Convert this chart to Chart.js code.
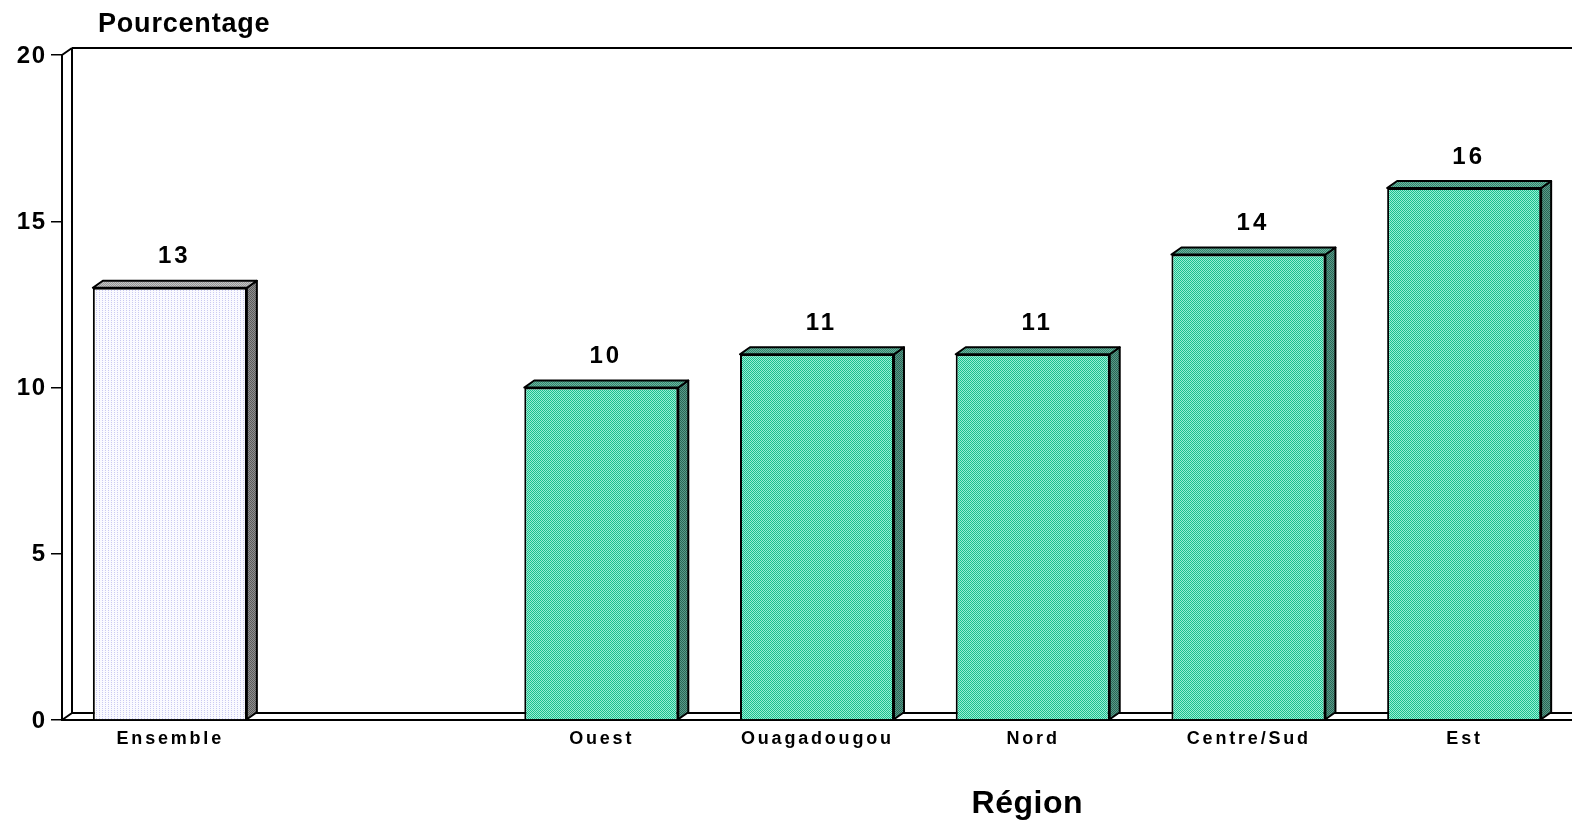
<!DOCTYPE html>
<html>
<head>
<meta charset="utf-8">
<script src="https://cdn.jsdelivr.net/npm/chart.js@4.4.1/dist/chart.umd.min.js"></script>
<style>
  html, body { margin: 0; padding: 0; background: #fff; }
  #wrap { width: 1572px; height: 823px; }
</style>
</head>
<body>
<div id="wrap"><canvas id="regionChart"></canvas></div>
<script>
// data
const regions = ['Ensemble', '', 'Ouest', 'Ouagadougou', 'Nord', 'Centre/Sud', 'Est'];
const pourcentages = [13, null, 10, 11, 11, 14, 16];
const yTicks = [0, 5, 10, 15, 20];

const FONT = "'Liberation Sans', Arial, sans-serif";
const DX = 10, DY = 7; // depth of the fake 3D

// little dotted fills like the original
function pattern(colA, colB, w, h, dots) {
  const c = document.createElement('canvas');
  c.width = w; c.height = h;
  const g = c.getContext('2d');
  g.fillStyle = colA;
  g.fillRect(0, 0, w, h);
  g.fillStyle = colB;
  dots.forEach(d => g.fillRect(d[0], d[1], 1, 1));
  return document.createElement('canvas').getContext('2d').createPattern(c, 'repeat');
}
const checker = [[0, 0], [1, 1]];
const tealFront = pattern('#98efd4', '#1cbf8e', 2, 2, checker);
const tealSide = pattern('#5a9a88', '#2a6656', 2, 2, checker);
const tealTop = pattern('#6cb49e', '#32866e', 2, 2, checker);
const lilacFront = pattern('#fafaff', '#cacaf2', 3, 2, [[0, 0]]);
const greySide = pattern('#8e8e8e', '#5a5a5a', 2, 2, checker);
const greyTop = pattern('#c4c4c4', '#989898', 2, 2, checker);

const fronts = regions.map((r, i) => i === 0 ? lilacFront : tealFront);

// text with spacing, centred or right aligned
function spaced(ctx, txt, x, y, spacing, align) {
  ctx.letterSpacing = spacing + 'px';
  ctx.textAlign = align;
  const shift = align === 'center' ? spacing / 2 : (align === 'right' ? spacing : 0);
  ctx.fillText(txt, x + shift, y);
  ctx.letterSpacing = '0px';
}

const threeD = {
  id: 'threeD',
  beforeDatasetsDraw(chart) {
    const { ctx, chartArea: a } = chart;
    ctx.save();
    ctx.strokeStyle = '#000';
    ctx.lineWidth = 2;
    ctx.beginPath();
    ctx.moveTo(a.left + DX, a.top - DY);
    ctx.lineTo(a.left + DX, a.bottom - DY);
    ctx.moveTo(a.left + DX, a.top - DY);
    ctx.lineTo(a.right, a.top - DY);
    ctx.moveTo(a.left + DX, a.bottom - DY);
    ctx.lineTo(a.right, a.bottom - DY);
    ctx.moveTo(a.left, a.top);
    ctx.lineTo(a.left + DX, a.top - DY);
    ctx.moveTo(a.left, a.bottom);
    ctx.lineTo(a.left + DX, a.bottom - DY);
    ctx.stroke();
    ctx.restore();
  },
  afterDatasetsDraw(chart) {
    const { ctx } = chart;
    const meta = chart.getDatasetMeta(0);
    ctx.save();
    ctx.strokeStyle = '#000';
    ctx.lineWidth = 2;
    ctx.lineJoin = 'round';
    meta.data.forEach((bar, i) => {
      if (pourcentages[i] == null) return;
      const p = bar.getProps(['x', 'y', 'base', 'width'], true);
      const l = p.x - p.width / 2, r = p.x + p.width / 2;
      // side
      ctx.beginPath();
      ctx.moveTo(r, p.y);
      ctx.lineTo(r + DX, p.y - DY);
      ctx.lineTo(r + DX, p.base - DY);
      ctx.lineTo(r, p.base);
      ctx.closePath();
      ctx.fillStyle = i === 0 ? greySide : tealSide;
      ctx.fill();
      ctx.stroke();
      // top
      ctx.beginPath();
      ctx.moveTo(l, p.y);
      ctx.lineTo(l + DX, p.y - DY);
      ctx.lineTo(r + DX, p.y - DY);
      ctx.lineTo(r, p.y);
      ctx.closePath();
      ctx.fillStyle = i === 0 ? greyTop : tealTop;
      ctx.fill();
      ctx.stroke();
      // value
      ctx.fillStyle = '#000';
      ctx.font = 'bold 24px ' + FONT;
      ctx.textBaseline = 'middle';
      spaced(ctx, String(pourcentages[i]), p.x + 3, p.y - 31, 3, 'center');
    });
    ctx.restore();
  },
  afterDraw(chart) {
    const { ctx, scales } = chart;
    ctx.save();
    ctx.fillStyle = '#000';
    ctx.textBaseline = 'middle';
    // y tick labels
    ctx.font = 'bold 24px ' + FONT;
    yTicks.forEach(v => spaced(ctx, String(v), 45, scales.y.getPixelForValue(v) + 1, 1.5, 'right'));
    // category labels, spaced out
    ctx.font = 'bold 18px ' + FONT;
    regions.forEach((r, i) => {
      if (!r) return;
      spaced(ctx, r, scales.x.getPixelForValue(i) - 1, 739, 2.8, 'center');
    });
    // axis titles
    ctx.font = 'bold 27px ' + FONT;
    spaced(ctx, 'Pourcentage', 98, 25, 0.8, 'left');
    ctx.font = 'bold 32px ' + FONT;
    spaced(ctx, 'Région', 1027, 804, 0.5, 'center');
    ctx.restore();
  }
};

new Chart(document.getElementById('regionChart'), {
  type: 'bar',
  data: {
    labels: regions,
    datasets: [{
      data: pourcentages,
      backgroundColor: fronts,
      borderColor: '#000',
      borderWidth: 2,
      borderSkipped: 'start',
      categoryPercentage: 1,
      barPercentage: 0.714
    }]
  },
  options: {
    responsive: true,
    maintainAspectRatio: false,
    animation: false,
    devicePixelRatio: 1,
    layout: { padding: { top: 55, right: 0, left: 0, bottom: 0 } },
    plugins: { legend: { display: false }, tooltip: { enabled: false } },
    scales: {
      x: {
        ticks: { display: false },
        grid: { display: false },
        border: { display: true, color: '#000', width: 2 },
        afterFit(scale) { scale.height = 103; }
      },
      y: {
        min: 0,
        max: 20,
        afterBuildTicks(scale) { scale.ticks = yTicks.map(v => ({ value: v })); },
        ticks: { display: false },
        grid: {
          drawOnChartArea: false,
          drawTicks: true,
          tickLength: 11,
          color: '#000',
          lineWidth: 1.5
        },
        border: { display: true, color: '#000', width: 2 },
        afterFit(scale) { scale.width = 62; }
      }
    }
  },
  plugins: [threeD]
});
</script>
</body>
</html>
